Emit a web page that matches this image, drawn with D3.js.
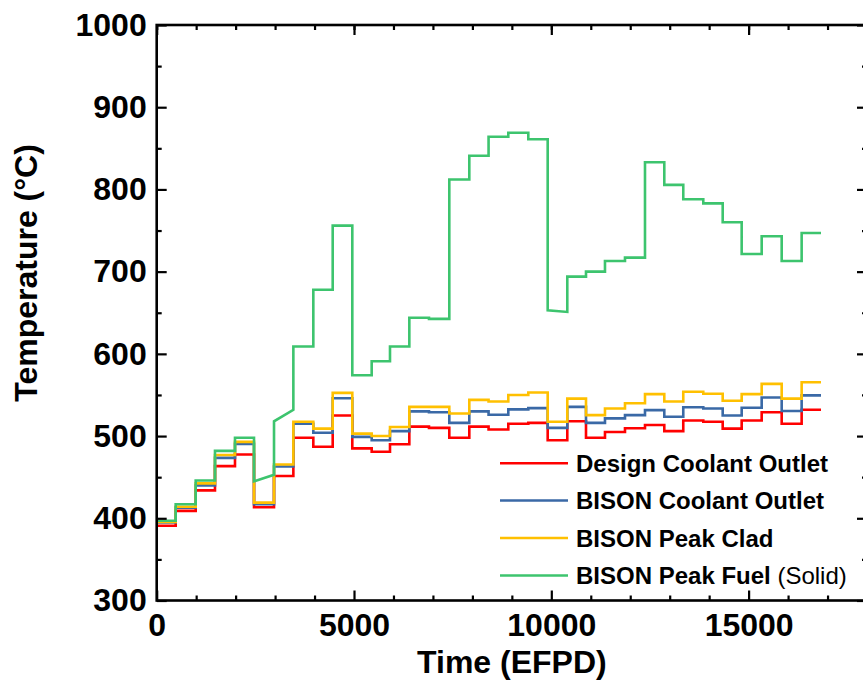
<!DOCTYPE html>
<html><head><meta charset="utf-8">
<script src="https://cdn.jsdelivr.net/npm/d3@7"></script>
<style>
body{margin:0;background:#fff}
text{font-family:"Liberation Sans",Arial,Helvetica,sans-serif;font-weight:bold;fill:#000}
</style>
</head><body>
<svg id="chart" width="863" height="680"></svg>
<script>
// Step boundaries (EFPD)
const efpd = [0, 481, 988, 1477, 1984, 2466, 2973, 3463, 3969, 4460, 4957, 5448, 5912, 6402, 6900, 7415, 7922, 8410, 8910, 9417, 9908, 10405, 10879, 11360, 11867, 12374, 12863, 13344, 13851, 14343, 14824, 15331, 15838, 16344, 16834];
// Temperatures (°C) in each interval
const designCoolantOutlet = [391, 409, 434, 463.5, 477.5, 413.5, 451.5, 498, 487, 525, 485, 481, 490, 511.5, 510, 498, 511.5, 508, 515, 516, 495, 518, 498, 505, 509.5, 513.5, 506, 519, 517.5, 509, 519, 529, 515, 532];
const bisonCoolantOutlet = [395, 413, 440, 473.5, 490.5, 417, 463, 515, 504, 546, 499, 495, 506, 530, 529, 516, 530, 526, 532.5, 534, 510, 535.5, 516, 521.5, 525.5, 531.5, 523.5, 535, 533.5, 525, 534.5, 547, 530.5, 549.5];
const bisonPeakClad = [395.5, 414, 442.5, 477, 493, 419, 465.5, 517.5, 509, 552.5, 503, 500, 511, 535.5, 535.5, 527.5, 544, 542, 550, 553, 517.5, 545.5, 525.5, 533.5, 540, 551, 542, 554, 551.5, 543, 551, 563.5, 545.5, 565.5];
const bisonPeakFuelStart = [397, 417, 446, 482, 498, 445, 518, 609, 678, 756, 574, 591, 609, 644, 642.5, 812, 841, 864, 869, 861, 653, 694, 700, 713, 717, 833, 805.5, 788, 783, 760, 721.5, 743, 713, 747];
const bisonPeakFuelEnd = [397, 417, 446, 482, 498, 453, 532, 609, 678, 756, 574, 591, 609, 644, 642.5, 812, 841, 864, 869, 861, 651, 694, 700, 713, 717, 833, 805.5, 788, 783, 760, 721.5, 743, 713, 747];

const seriesNames = ["Design Coolant Outlet", "BISON Coolant Outlet", "BISON Peak Clad", "BISON Peak Fuel"];
const seriesColors = ["#ff0000", "#3a69a6", "#ffc000", "#3dc46e"];
const xTickValues = [0, 5000, 10000, 15000];
const xMinorTicks = [1000,2000,3000,4000,6000,7000,8000,9000,11000,12000,13000,14000,16000,17000];
const yTickValues = [300, 400, 500, 600, 700, 800, 900, 1000];
const yMinorTicks = [350, 450, 550, 650, 750, 850, 950];
const xDomain = [0, 18000];
const yDomain = [300, 1000];

const svg = d3.select("#chart");
const L = 156.7, R = 867, T = 25, B = 600.5;
const x = d3.scaleLinear().domain(xDomain).range([L, R]);
const y = d3.scaleLinear().domain(yDomain).range([B, T]);

svg.append("defs").append("clipPath").attr("id","clip")
  .append("rect").attr("x", L).attr("y", T).attr("width", R - L).attr("height", B - T);

function buildPoints(startVals, endVals) {
  const pts = [[efpd[0], yDomain[0]]];
  startVals.forEach((v, i) => {
    pts.push([efpd[i], v]);
    pts.push([efpd[i + 1], endVals[i]]);
  });
  return pts;
}
const seriesData = [
  buildPoints(designCoolantOutlet, designCoolantOutlet),
  buildPoints(bisonCoolantOutlet, bisonCoolantOutlet),
  buildPoints(bisonPeakClad, bisonPeakClad),
  buildPoints(bisonPeakFuelStart, bisonPeakFuelEnd)
];
const line = d3.line().x(d => x(d[0])).y(d => y(d[1]));
const gLines = svg.append("g").attr("clip-path", "url(#clip)");
seriesData.forEach((pts, i) => {
  gLines.append("path").attr("d", line(pts)).attr("fill", "none")
    .attr("stroke", seriesColors[i]).attr("stroke-width", 2.6)
    .attr("stroke-linejoin", "miter");
});

// axes
function styleAxis(g) {
  g.select(".domain").remove();
  g.selectAll("line").attr("stroke", "#000").attr("stroke-width", 2.2);
  g.selectAll("text").style("font-size", "32px").attr("fill", "#000");
}
svg.append("g").attr("transform", `translate(${L},0)`)
  .call(d3.axisLeft(y).tickValues(yTickValues).tickSize(-10).tickSizeOuter(0).tickPadding(10).tickFormat(d3.format("d")))
  .call(styleAxis).attr("font-family", null);
svg.append("g").attr("transform", `translate(${L},0)`)
  .call(d3.axisLeft(y).tickValues(yMinorTicks).tickSize(-5).tickSizeOuter(0).tickFormat(""))
  .call(styleAxis);
svg.append("g").attr("transform", `translate(0,${B})`)
  .call(d3.axisBottom(x).tickValues(xTickValues).tickSize(-10).tickSizeOuter(0).tickPadding(13).tickFormat(d3.format("d")))
  .call(styleAxis).attr("font-family", null);
svg.append("g").attr("transform", `translate(0,${B})`)
  .call(d3.axisBottom(x).tickValues(xMinorTicks).tickSize(-5).tickSizeOuter(0).tickFormat(""))
  .call(styleAxis);
svg.append("g").attr("transform", `translate(0,${T})`)
  .call(d3.axisTop(x).tickValues(xTickValues.concat(xMinorTicks)).tickSize(-5).tickSizeOuter(0).tickFormat(""))
  .call(styleAxis);
svg.append("g").attr("transform", `translate(0,${T})`)
  .call(d3.axisTop(x).tickValues(xTickValues).tickSize(-10).tickSizeOuter(0).tickFormat(""))
  .call(styleAxis);
svg.append("g").attr("transform", `translate(${R},0)`)
  .call(d3.axisRight(y).tickValues(yTickValues).tickSize(-10).tickSizeOuter(0).tickFormat(""))
  .call(styleAxis);
svg.append("g").attr("transform", `translate(${R},0)`)
  .call(d3.axisRight(y).tickValues(yMinorTicks).tickSize(-5).tickSizeOuter(0).tickFormat(""))
  .call(styleAxis);
svg.selectAll(".tick text").style("font-family", "'Liberation Sans',Arial,sans-serif").style("font-weight", "bold");

svg.append("rect").attr("x", L).attr("y", T).attr("width", R - L).attr("height", B - T)
  .attr("fill", "none").attr("stroke", "#000").attr("stroke-width", 2.6);

// titles
svg.append("text").attr("x", (L + R) / 2).attr("y", 673).attr("text-anchor", "middle")
  .style("font-size", "32px").text("Time (EFPD)");
svg.append("text").attr("transform", "translate(37,273) rotate(-90)").attr("text-anchor", "middle")
  .style("font-size", "32px").text("Temperature (°C)");

// legend
const legY = [463.3, 500.5, 538, 575.5];
const lg = svg.append("g");
seriesNames.forEach((n, i) => {
  lg.append("line").attr("x1", 500).attr("x2", 568).attr("y1", legY[i]).attr("y2", legY[i])
    .attr("stroke", seriesColors[i]).attr("stroke-width", 2.6);
  const t = lg.append("text").attr("x", 576).attr("y", legY[i]).attr("dy", "0.36em")
    .style("font-size", "24px").text(n);
  if (i === 3) {
    t.append("tspan").style("font-weight", "normal").text(" (Solid)");
  }
});
</script>
</body></html>
